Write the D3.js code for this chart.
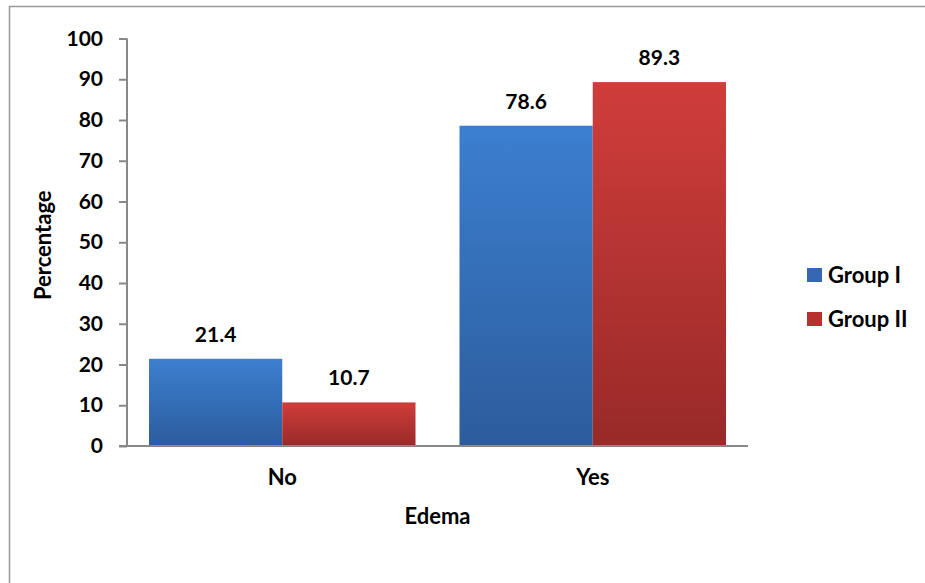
<!DOCTYPE html>
<html>
<head>
<meta charset="utf-8">
<script src="https://cdn.jsdelivr.net/npm/d3@7"></script>
<style>
  html, body { margin: 0; padding: 0; background: #fff; }
  svg { display: block; }
  text { font-family: Lato, "Open Sans", sans-serif; font-weight: 700; fill: #000; }
</style>
</head>
<body>
<svg id="chart" width="925" height="583"></svg>
<script>
const categories = ["No", "Yes"];
const seriesNames = ["Group I", "Group II"];
const groupI = [21.4, 78.6];
const groupII = [10.7, 89.3];
const yTicks = [0, 10, 20, 30, 40, 50, 60, 70, 80, 90, 100];
const xTitle = "Edema";
const yTitle = "Percentage";

const svg = d3.select("#chart");
const W = 925, H = 583;
const m = { left: 127, right: 748, top: 38.5, bottom: 446 };

// outer frame (top and left edges visible)
svg.append("line").attr("x1", 9).attr("x2", W).attr("y1", 6.5).attr("y2", 6.5)
  .attr("stroke", "#999").attr("stroke-width", 1.5);
svg.append("line").attr("x1", 9.5).attr("x2", 9.5).attr("y1", 6).attr("y2", H)
  .attr("stroke", "#999").attr("stroke-width", 1.5);

const defs = svg.append("defs");
const grads = [
  { id: "gBlue", top: "#3c7fd0", bottom: "#2c5c9c" },
  { id: "gRed", top: "#d03d3b", bottom: "#982a28" }
];
grads.forEach(g => {
  const lg = defs.append("linearGradient").attr("id", g.id)
    .attr("x1", 0).attr("y1", 0).attr("x2", 0).attr("y2", 1);
  lg.append("stop").attr("offset", "0%").attr("stop-color", g.top);
  lg.append("stop").attr("offset", "100%").attr("stop-color", g.bottom);
});
const fills = ["url(#gBlue)", "url(#gRed)"];
const legendFills = ["#3468b5", "#b8312f"];

const x0 = d3.scaleBand().domain(categories).range([m.left, m.right])
  .paddingInner(0.1417).paddingOuter(0.0709);
const x1 = d3.scaleBand().domain(seriesNames).range([0, x0.bandwidth()]);
const y = d3.scaleLinear().domain([0, 100]).range([m.bottom, m.top]);

const data = categories.map((c, i) => ({ cat: c, vals: [groupI[i], groupII[i]] }));

// bars
const groups = svg.append("g").selectAll("g").data(data).join("g")
  .attr("transform", d => `translate(${x0(d.cat)},0)`);
groups.selectAll("rect").data(d => d.vals.map((v, j) => ({ v, j })))
  .join("rect")
  .attr("x", d => x1(seriesNames[d.j]))
  .attr("y", d => y(d.v))
  .attr("width", x1.bandwidth())
  .attr("height", d => y(0) - y(d.v))
  .attr("fill", d => fills[d.j]);

// value labels
groups.selectAll("text").data(d => d.vals.map((v, j) => ({ v, j })))
  .join("text")
  .attr("x", d => x1(seriesNames[d.j]) + x1.bandwidth() / 2)
  .attr("y", d => y(d.v) - 17)
  .attr("text-anchor", "middle")
  .attr("font-size", 21)
  .text(d => d.v.toFixed(1));

// y axis
const yAxis = d3.axisLeft(y).tickValues(yTicks).tickSize(8).tickPadding(16);
const gy = svg.append("g").attr("transform", `translate(${m.left},0)`).call(yAxis);
gy.select(".domain").attr("stroke", "#888").attr("stroke-width", 2).attr("d", `M0,${m.top}V${m.bottom}`);
gy.selectAll(".tick line").attr("stroke", "#888").attr("stroke-width", 2);
gy.selectAll(".tick text").attr("font-size", 21).attr("font-family", "Lato, sans-serif")
  .attr("font-weight", 700).attr("fill", "#000");

// x axis
const xAxis = d3.axisBottom(x0).tickSize(0).tickPadding(23);
const gx = svg.append("g").attr("transform", `translate(0,${m.bottom})`).call(xAxis);
gx.select(".domain").attr("stroke", "#888").attr("stroke-width", 2).attr("d", `M${m.left - 8},0H${m.right}`);
gx.selectAll(".tick text").attr("font-size", 22).attr("font-family", "Lato, sans-serif")
  .attr("font-weight", 700).attr("fill", "#000");

// axis titles
svg.append("text").attr("x", (m.left + m.right) / 2).attr("y", 524)
  .attr("text-anchor", "middle").attr("font-size", 22).text(xTitle);
svg.append("text").attr("transform", `translate(51,${(m.top + m.bottom) / 2 + 3}) rotate(-90)`)
  .attr("text-anchor", "middle").attr("font-size", 22).text(yTitle);

// legend
const lg = svg.append("g").selectAll("g").data(seriesNames).join("g")
  .attr("transform", (d, i) => `translate(807,${268 + i * 44})`);
lg.append("rect").attr("width", 15).attr("height", 14).attr("fill", (d, i) => legendFills[i]);
lg.append("text").attr("x", 21).attr("y", 7).attr("dy", "0.35em")
  .attr("font-size", 22).text(d => d);
</script>
</body>
</html>
